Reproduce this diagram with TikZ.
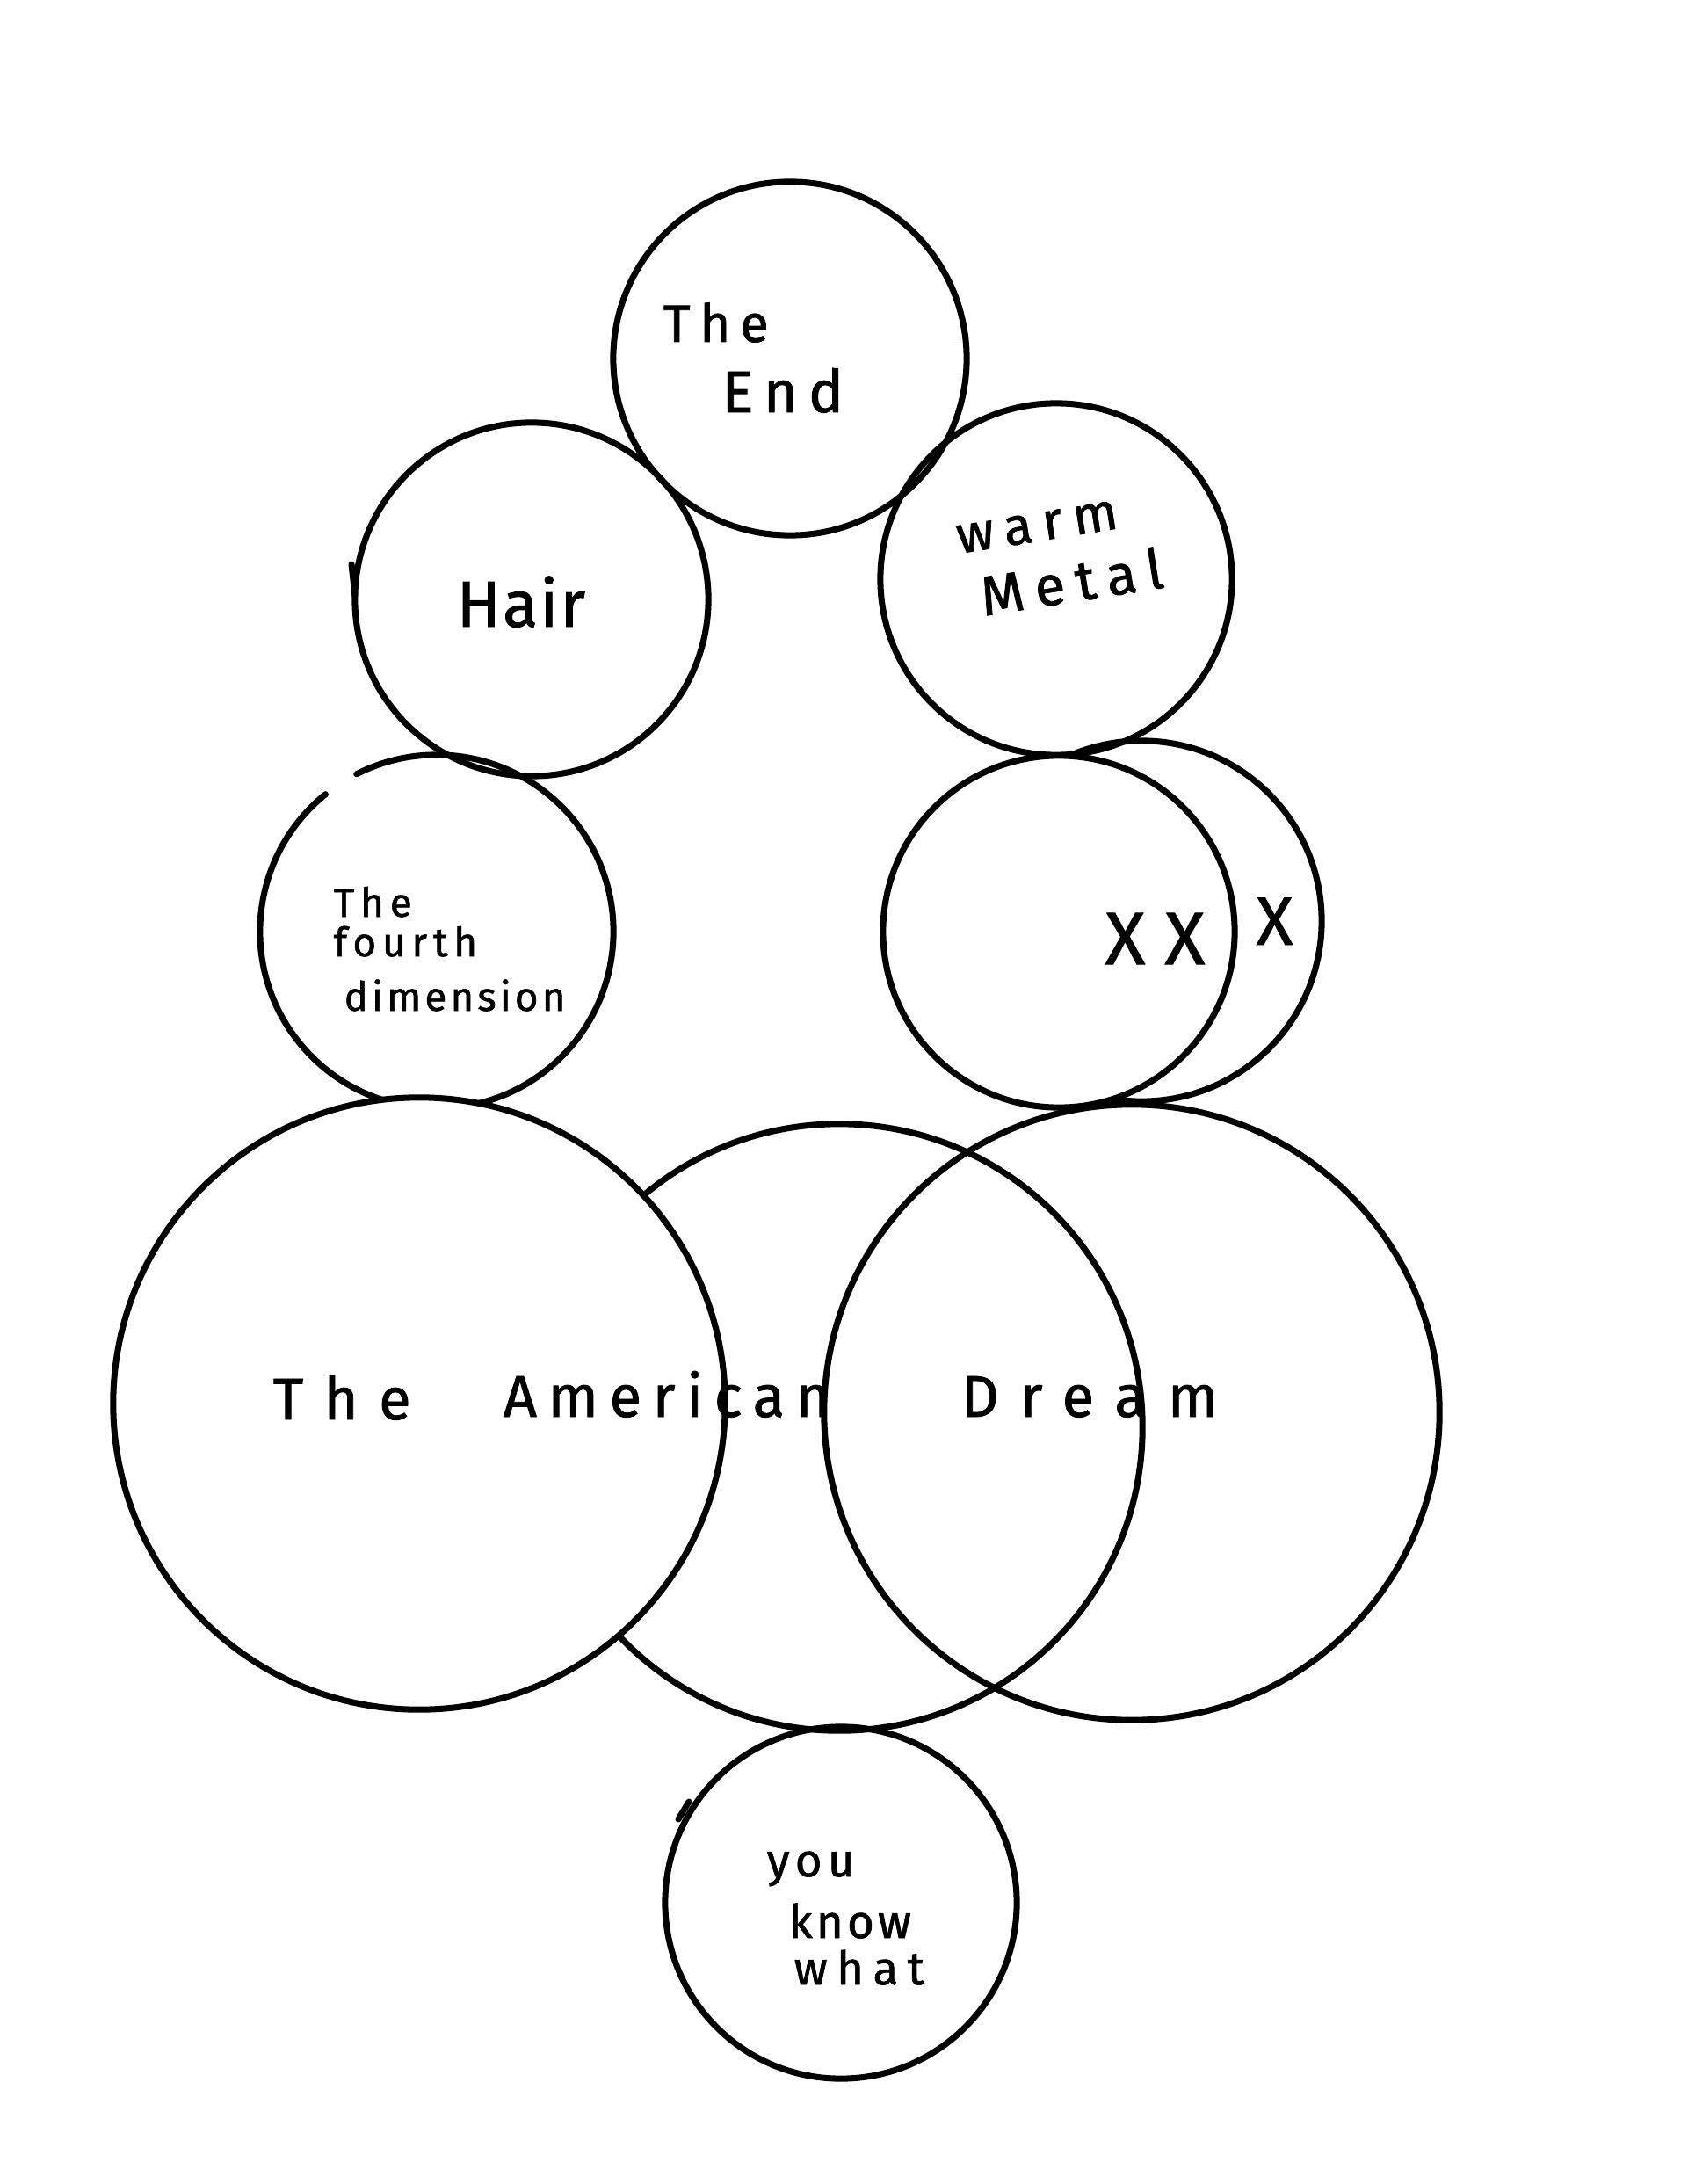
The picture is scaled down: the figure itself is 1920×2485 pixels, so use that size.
\documentclass[tikz,border=0pt]{standalone}
\usepackage{fontspec}
\setmainfont{Fira Sans}
\newcommand\hw[3]{{\fontsize{#1pt}{#1pt}\selectfont\addfontfeature{LetterSpace=#2,FakeBold=1.2}#3}}
\begin{document}
\begin{tikzpicture}[x=0.01cm,y=-0.01cm,
  ring/.style={circle,draw=black,line width=2pt,inner sep=0pt,minimum size=#1},
  ringw/.style={ring=#1,fill=white},
  inkline/.style={draw=black,line width=2pt,line cap=round},
  lbl/.style={anchor=base west,inner sep=0pt,text=black}]
\useasboundingbox[fill=white] (0,0) rectangle (1920,2485);
% top circles
\node[ring=4.02cm] (endc) at (899,408) {};
\node[ring=4.02cm] (hairc) at (605,682) {};
\node[ring=4.0cm] (warmc) at (1202,659) {};
% fourth dimension circle with small gap
\node[circle,inner sep=0pt,minimum size=4.02cm] (fourc) at (497,1060) {};
\draw[inkline] (fourc.center) ++(129:2.01cm) arc[start angle=129,end angle=477,radius=2.01cm];
% X circles
\node[ring=4.1cm] (xc) at (1299,1048) {};
\node[ringw=4.0cm] (xxc) at (1205,1060) {};
% big circles
\node[ring=6.9cm] (midc) at (955,1624) {};
\node[ringw=6.96cm] (leftc) at (477,1597) {};
\node[ring=7.0cm] (rightc) at (1288,1607) {};
% bottom circle
\node[ring=4.0cm] (youc) at (957,2165) {};
% small pen ticks
\coordinate (hk1) at (400,642);
\coordinate (hk2) at (404,678);
\draw[inkline] (hk1) -- (hk2);
\coordinate (yk1) at (772,2070);
\coordinate (yk2) at (784,2050);
\draw[inkline] (yk1) -- (yk2);
% labels
\node[lbl] (end1) at (754,389) {\hw{17}{18}{The}};
\node[lbl] (end2) at (821,469) {\hw{19}{18}{End}};
\node[lbl] (hairt) at (519,713) {\hw{21}{3}{Hair}};
\node[lbl,rotate=9] (warmt) at (1091,630) {\hw{17}{20}{warm}};
\node[lbl,rotate=9] (metalt) at (1119,701) {\hw{18}{20}{Metal}};
\node[lbl] (fd1) at (379,1043) {\hw{13}{15}{The}};
\node[lbl] (fd2) at (379,1088) {\hw{13}{15}{fourth}};
\node[lbl] (fd3) at (391,1150) {\hw{13}{9}{dimension}};
\node[lbl] (xxt) at (1257,1097) {\hw{24}{0}{X X}};
\node[lbl] (xt) at (1429,1075) {\hw{22}{0}{X}};
\node[lbl] (ad1) at (310,1615) {\hw{19}{35}{The}};
\node[lbl] (ad2) at (572,1612) {\hw{19}{19}{American}};
\node[lbl] (ad3) at (1093,1612) {\hw{19}{36}{Dream}};
\node[lbl] (y1) at (872,2135) {\hw{15}{12}{you}};
\node[lbl] (y2) at (897,2205) {\hw{15}{8}{know}};
\node[lbl] (y3) at (903,2258) {\hw{15}{20}{what}};
\end{tikzpicture}
\end{document}
